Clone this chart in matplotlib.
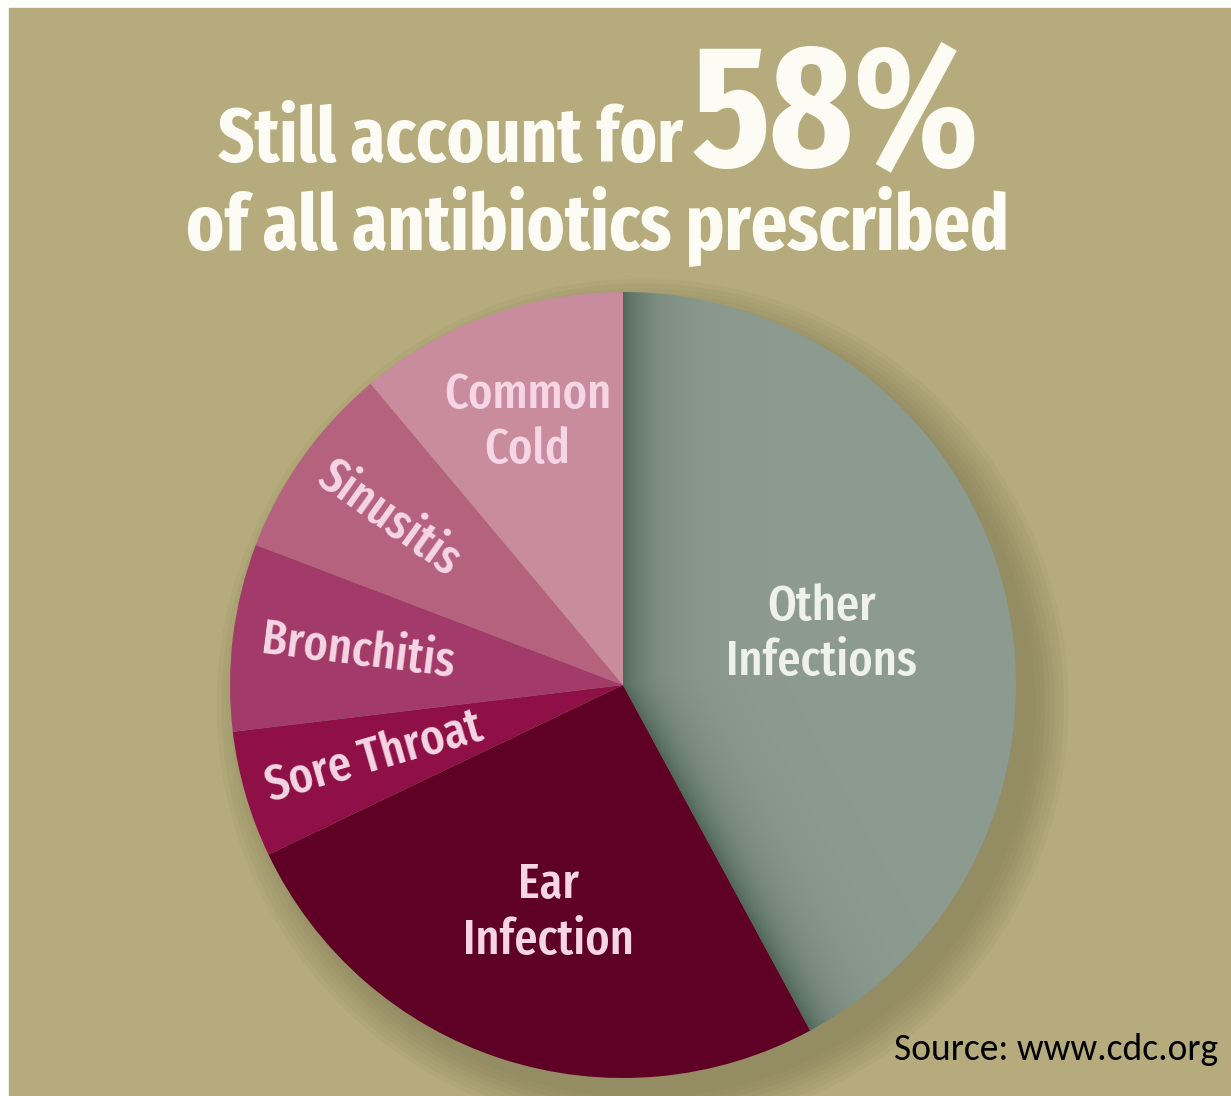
import numpy as np
import matplotlib.pyplot as plt
from matplotlib.patches import Rectangle, Circle

# data (share of prescriptions, %)
categories = ['Other\nInfections', 'Ear\nInfection', 'Sore Throat', 'Bronchitis', 'Sinusitis', 'Common\nCold']
shares = [42.1, 25.8, 5.2, 7.7, 8.1, 11.1]
slice_colors = ['#8c9a8f', '#5f0025', '#8e1047', '#a33b6a', '#b5627f', '#c98c9f']

title_top = 'Still account for'
title_big = '58%'
title_bottom = 'of all antibiotics prescribed'
source_text = 'Source: www.cdc.org'

BG = '#b5ab7c'
W, H = 1231, 1096

cond = ['Fira Sans Extra Condensed', 'PT Sans Narrow', 'DejaVu Sans']

fig = plt.figure(figsize=(W / 100, H / 100), dpi=100)
fig.patch.set_facecolor('white')

# background axes in pixel coords (y down)
bg = fig.add_axes([0, 0, 1, 1])
bg.set_xlim(0, W)
bg.set_ylim(H, 0)
bg.axis('off')
bg.add_patch(Rectangle((9, 8), W - 9, H - 8, color=BG, zorder=0))

bg.text(683, 162, title_top, ha='right', va='baseline', color='#fdfcf4',
        fontsize=55, fontweight='bold', family=cond)
bg.text(692, 165, title_big, ha='left', va='baseline', color='#fdfcf4',
        fontsize=124, fontweight='bold', family=cond)
bg.text(597, 250, title_bottom, ha='center', va='baseline', color='#fdfcf4',
        fontsize=56, fontweight='bold', family=cond)
bg.text(1218, 1060, source_text, ha='right', va='baseline', color='black',
        fontsize=27, family=['Carlito', 'Lato', 'DejaVu Sans'])

# pie axes: center (623, 685), radius 393 px
cx, cy, r = 623, 685, 393
ax = fig.add_axes([(cx - r) / W, (H - cy - r) / H, 2 * r / W, 2 * r / H])

# soft drop shadow to the lower right
for k in range(8):
    ax.add_patch(Circle((0.05, -0.05), 1.0 + 0.012 * k, color='#5e5a3c',
                        alpha=0.05, lw=0, clip_on=False, zorder=0))

wedges, _ = ax.pie(shares, colors=slice_colors, startangle=90, counterclock=False,
                   radius=1, wedgeprops=dict(linewidth=0))
ax.set_xlim(-1, 1)
ax.set_ylim(-1, 1)
ax.set_aspect('equal')
ax.axis('off')

# inner shading on the grey slice along its straight edges
other = wedges[0]
gx, gy = np.meshgrid(np.linspace(-1, 1, 600), np.linspace(-1, 1, 600))
shade = np.zeros_like(gx)
for th in (other.theta1, other.theta2):
    a = np.deg2rad(th)
    d = np.abs(gx * np.sin(a) - gy * np.cos(a))
    shade = np.maximum(shade, np.exp(-d / 0.07))
img = np.zeros(gx.shape + (4,))
img[..., 0], img[..., 1], img[..., 2] = 0.24, 0.34, 0.29
img[..., 3] = shade * 0.75
im = ax.imshow(img, extent=(-1, 1, -1, 1), origin='lower', zorder=2)
im.set_clip_path(other)

# labels
label_r = [0.52, 0.61, 0.66, 0.68, 0.73, 0.71]
radial = {'Sore Throat', 'Bronchitis', 'Sinusitis'}
for w, name, lr in zip(wedges, categories, label_r):
    mid = (w.theta1 + w.theta2) / 2
    x, y = lr * np.cos(np.deg2rad(mid)), lr * np.sin(np.deg2rad(mid))
    rot = mid - 180 if name in radial else 0
    col = '#eef2ea' if name.startswith('Other') else '#f6d6e4'
    ax.text(x, y, name, ha='center', va='center', rotation=rot, rotation_mode='anchor',
            color=col, fontsize=36, fontweight='medium', family=cond,
            linespacing=1.2, zorder=3)

fig.savefig('out.png', dpi=100, facecolor=fig.get_facecolor())
